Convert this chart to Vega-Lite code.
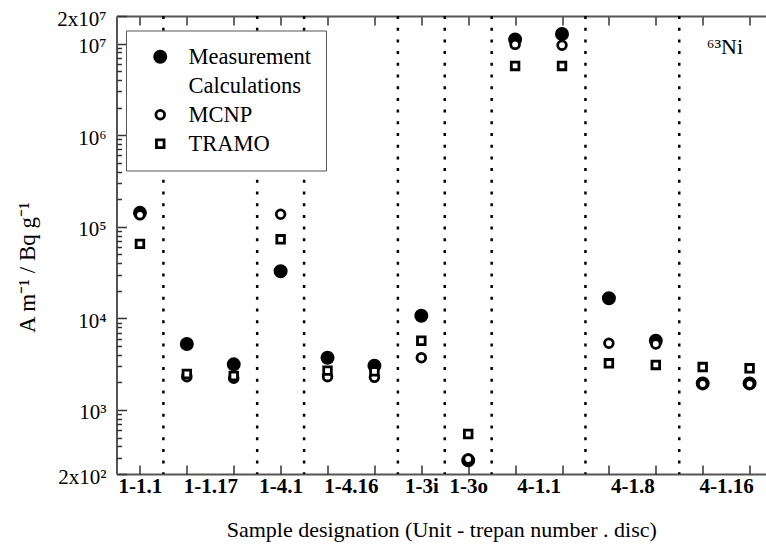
{
  "$schema": "https://vega.github.io/schema/vega-lite/v6.json",
  "autosize": {"type": "none"},
  "padding": {"left": 116.5, "top": 16, "right": 0, "bottom": 75},
  "width": 649.5,
  "height": 458,
  "config": {
    "font": "Liberation Serif",
    "view": {"stroke": null},
    "axis": {"grid": false, "labelFlush": false, "labelOverlap": false, "labelBound": false, "domainColor": "#555", "domainWidth": 2, "tickColor": "#333", "tickWidth": 1.5}
  },
  "datasets": {
    "points": [
      {"pos": 1, "sample": "1-1.1", "series": "Measurement", "value": 142000},
      {"pos": 2, "sample": "1-1.17", "series": "Measurement", "value": 5250},
      {"pos": 3, "sample": "1-1.17", "series": "Measurement", "value": 3150},
      {"pos": 4, "sample": "1-4.1", "series": "Measurement", "value": 32700},
      {"pos": 5, "sample": "1-4.16", "series": "Measurement", "value": 3720},
      {"pos": 6, "sample": "1-4.16", "series": "Measurement", "value": 3040},
      {"pos": 7, "sample": "1-3i", "series": "Measurement", "value": 10700},
      {"pos": 8, "sample": "1-3o", "series": "Measurement", "value": 282},
      {"pos": 9, "sample": "4-1.1", "series": "Measurement", "value": 11100000},
      {"pos": 10, "sample": "4-1.1", "series": "Measurement", "value": 12700000},
      {"pos": 11, "sample": "4-1.8", "series": "Measurement", "value": 16600},
      {"pos": 12, "sample": "4-1.8", "series": "Measurement", "value": 5700},
      {"pos": 13, "sample": "4-1.16", "series": "Measurement", "value": 1950},
      {"pos": 14, "sample": "4-1.16", "series": "Measurement", "value": 1950},
      {"pos": 1, "sample": "1-1.1", "series": "MCNP", "value": 135000},
      {"pos": 2, "sample": "1-1.17", "series": "MCNP", "value": 2310},
      {"pos": 3, "sample": "1-1.17", "series": "MCNP", "value": 2220},
      {"pos": 4, "sample": "1-4.1", "series": "MCNP", "value": 137000},
      {"pos": 5, "sample": "1-4.16", "series": "MCNP", "value": 2310},
      {"pos": 6, "sample": "1-4.16", "series": "MCNP", "value": 2270},
      {"pos": 7, "sample": "1-3i", "series": "MCNP", "value": 3720},
      {"pos": 8, "sample": "1-3o", "series": "MCNP", "value": 292},
      {"pos": 9, "sample": "4-1.1", "series": "MCNP", "value": 9800000},
      {"pos": 10, "sample": "4-1.1", "series": "MCNP", "value": 9600000},
      {"pos": 11, "sample": "4-1.8", "series": "MCNP", "value": 5350},
      {"pos": 12, "sample": "4-1.8", "series": "MCNP", "value": 5250},
      {"pos": 13, "sample": "4-1.16", "series": "MCNP", "value": 1920},
      {"pos": 14, "sample": "4-1.16", "series": "MCNP", "value": 1920},
      {"pos": 1, "sample": "1-1.1", "series": "TRAMO", "value": 65000},
      {"pos": 2, "sample": "1-1.17", "series": "TRAMO", "value": 2470},
      {"pos": 3, "sample": "1-1.17", "series": "TRAMO", "value": 2350},
      {"pos": 4, "sample": "1-4.1", "series": "TRAMO", "value": 73000},
      {"pos": 5, "sample": "1-4.16", "series": "TRAMO", "value": 2690},
      {"pos": 6, "sample": "1-4.16", "series": "TRAMO", "value": 2640},
      {"pos": 7, "sample": "1-3i", "series": "TRAMO", "value": 5700},
      {"pos": 8, "sample": "1-3o", "series": "TRAMO", "value": 547},
      {"pos": 9, "sample": "4-1.1", "series": "TRAMO", "value": 5700000},
      {"pos": 10, "sample": "4-1.1", "series": "TRAMO", "value": 5700000},
      {"pos": 11, "sample": "4-1.8", "series": "TRAMO", "value": 3230},
      {"pos": 12, "sample": "4-1.8", "series": "TRAMO", "value": 3100},
      {"pos": 13, "sample": "4-1.16", "series": "TRAMO", "value": 2940},
      {"pos": 14, "sample": "4-1.16", "series": "TRAMO", "value": 2850}
    ],
    "separators": [
      {"boundary": 1.5}, {"boundary": 3.5}, {"boundary": 4.5}, {"boundary": 6.5},
      {"boundary": 7.5}, {"boundary": 8.5}, {"boundary": 10.5}, {"boundary": 12.5}
    ],
    "annotation": [{"note": "⁶³Ni"}]
  },
  "resolve": {"axis": {"x": "independent", "y": "independent"}},
  "layer": [
    {
      "data": {"name": "separators"},
      "mark": {"type": "rule", "color": "black", "strokeWidth": 2.5, "strokeDash": [3, 8.7], "strokeCap": "butt"},
      "encoding": {
        "x": {
          "field": "boundary", "type": "quantitative",
          "scale": {"domain": [0.5, 14.35], "nice": false, "zero": false},
          "axis": {
            "orient": "bottom",
            "values": [1, 2.5, 4, 5.5, 7, 8, 9.5, 11.5, 13.5],
            "ticks": false, "tickSize": 0, "domain": true,
            "labelExpr": "datum.value == 1 ? '1-1.1' : datum.value == 2.5 ? '1-1.17' : datum.value == 4 ? '1-4.1' : datum.value == 5.5 ? '1-4.16' : datum.value == 7 ? '1-3i' : datum.value == 8 ? '1-3o' : datum.value == 9.5 ? '4-1.1' : datum.value == 11.5 ? '4-1.8' : '4-1.16'",
            "labelFont": "Liberation Serif", "labelFontSize": 21, "labelFontWeight": "bold", "labelColor": "black",
            "labelPadding": 1, "labelBaseline": "top",
            "title": "Sample designation (Unit - trepan number . disc)",
            "titleFont": "Liberation Serif", "titleFontSize": 22, "titleFontWeight": "normal", "titleColor": "black",
            "titleY": 62, "titleBaseline": "alphabetic"
          }
        }
      }
    },
    {
      "data": {"name": "points"},
      "mark": {"type": "point", "opacity": 1, "strokeWidth": 2.8},
      "encoding": {
        "x": {
          "field": "pos", "type": "quantitative",
          "scale": {"domain": [0.5, 14.35], "nice": false, "zero": false},
          "axis": {"orient": "bottom", "values": [1,2,3,4,5,6,7,8,9,10,11,12,13,14], "tickSize": -9, "labels": false, "domain": false, "title": null}
        },
        "y": {
          "field": "value", "type": "quantitative",
          "scale": {"type": "log", "domain": [200, 20000000], "nice": false},
          "axis": {
            "orient": "left",
            "values": [200, 1000, 10000, 100000, 1000000, 10000000, 20000000],
            "tickSize": -10, "domain": true,
            "labelExpr": "datum.value == 200 ? '2x10²' : datum.value == 1000 ? '10³' : datum.value == 10000 ? '10⁴' : datum.value == 100000 ? '10⁵' : datum.value == 1000000 ? '10⁶' : datum.value == 10000000 ? '10⁷' : '2x10⁷'",
            "labelFont": "Liberation Serif", "labelFontSize": 21, "labelColor": "black",
            "labelPadding": 20.5, "labelOffset": 3,
            "title": "A m⁻¹ / Bq g⁻¹",
            "titleFont": "Liberation Serif", "titleFontSize": 23, "titleFontWeight": "normal", "titleColor": "black",
            "titleX": -82.5, "titleY": 251, "titleAngle": -90, "titleBaseline": "alphabetic", "titleAlign": "center"
          }
        },
        "shape": {
          "field": "series", "type": "nominal",
          "scale": {"domain": ["Measurement", "Calculations", "MCNP", "TRAMO"], "range": ["circle", "circle", "circle", "square"]},
          "legend": {
            "orient": "none", "legendX": 9.5, "legendY": 14.5, "title": null,
            "strokeColor": "#555", "fillColor": "white", "padding": 15,
            "labelFont": "Liberation Serif", "labelFontSize": 22.5, "labelColor": "black", "labelOffset": 17,
            "symbolOffset": 8,
            "rowPadding": 6, "symbolStrokeWidth": 2.8, "labelLimit": 300
          }
        },
        "fill": {
          "field": "series", "type": "nominal",
          "scale": {"domain": ["Measurement", "Calculations", "MCNP", "TRAMO"], "range": ["black", "transparent", "white", "white"]}
        },
        "stroke": {
          "field": "series", "type": "nominal",
          "scale": {"domain": ["Measurement", "Calculations", "MCNP", "TRAMO"], "range": ["black", "transparent", "black", "black"]}
        },
        "size": {
          "field": "series", "type": "nominal",
          "scale": {"type": "ordinal", "domain": ["Measurement", "Calculations", "MCNP", "TRAMO"], "range": [125, 0, 75, 58]}
        }
      }
    },
    {
      "data": {"name": "annotation"},
      "mark": {"type": "text", "font": "Liberation Serif", "fontSize": 22, "align": "right", "baseline": "alphabetic", "color": "black"},
      "encoding": {
        "text": {"field": "note", "type": "nominal"},
        "x": {
          "datum": 13.86, "type": "quantitative",
          "scale": {"domain": [0.5, 14.35], "nice": false, "zero": false},
          "axis": {"orient": "top", "values": [1,2,3,4,5,6,7,8,9,10,11,12,13,14], "tickSize": -9, "labels": false, "domain": true, "title": null}
        },
        "y": {
          "datum": 7700000, "type": "quantitative",
          "scale": {"type": "log", "domain": [200, 20000000], "nice": false},
          "axis": {"orient": "left", "values": [300,400,500,600,700,800,900,2000,3000,4000,5000,6000,7000,8000,9000,20000,30000,40000,50000,60000,70000,80000,90000,200000,300000,400000,500000,600000,700000,800000,900000,2000000,3000000,4000000,5000000,6000000,7000000,8000000,9000000], "tickSize": -5, "labels": false, "domain": false, "title": null}
        }
      }
    }
  ]
}
